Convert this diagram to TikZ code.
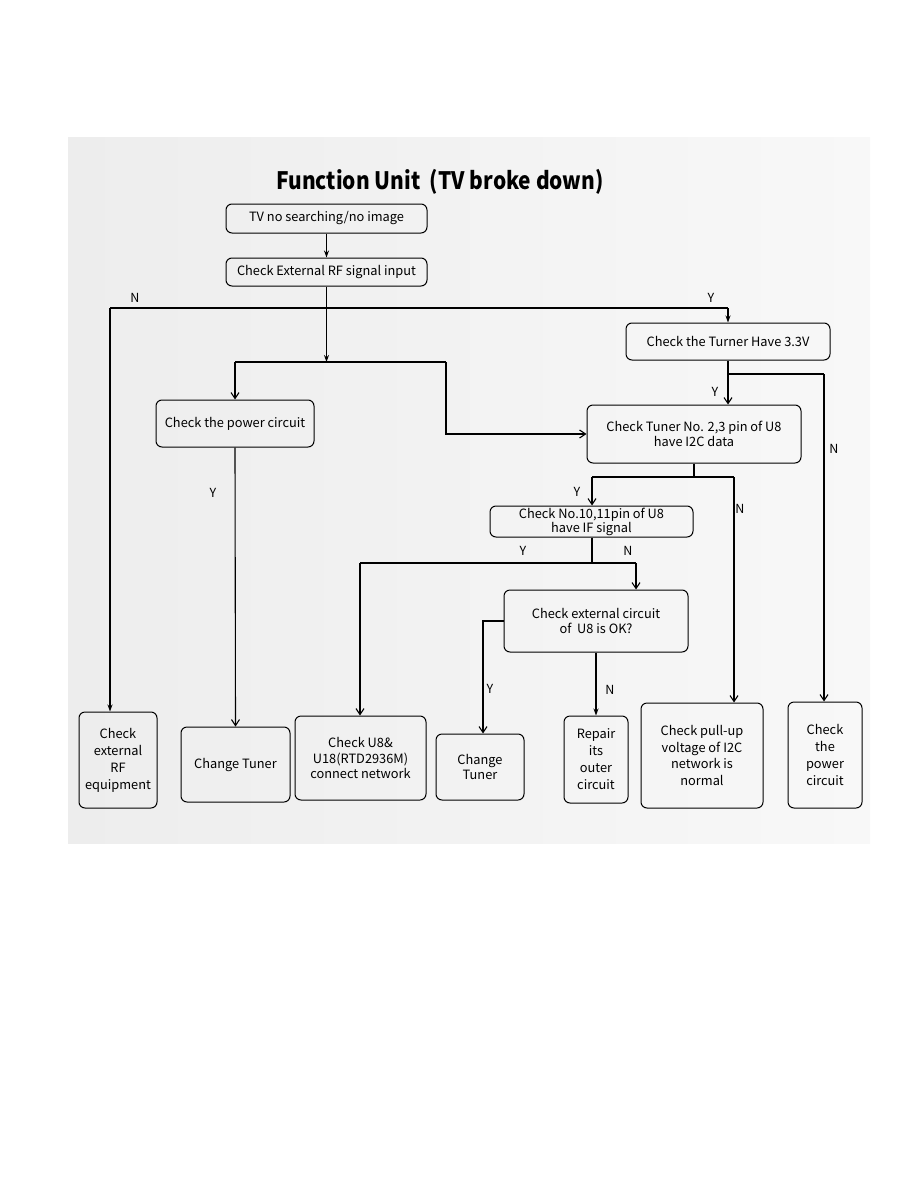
\documentclass[tikz,border=0pt]{standalone}
\usepackage{fontspec}
\setmainfont{Noto Sans CJK SC}
\usetikzlibrary{arrows.meta}
\definecolor{bgA}{HTML}{EDEDED}
\definecolor{bgB}{HTML}{F8F8F8}
\begin{document}
\begin{tikzpicture}[x=1pt,y=-1pt,
  box/.style={draw, rounded corners=6pt, line width=1pt, inner sep=1pt, align=center,
    font=\fontsize{12.8}{15.5}\selectfont},
  lab/.style={font=\fontsize{12.5}{14}\selectfont},
  ln/.style={line width=1.1pt},
  arrF/.style={ln, -{Stealth[length=7pt,width=5pt]}},
  arrO/.style={ln, -{Straight Barb[length=6pt,width=8pt]}}]
\useasboundingbox (0,0) rectangle (918,1188);
\shade[left color=bgA, right color=bgB] (68,138) rectangle (870,843);

\node[font=\fontsize{24}{28}\selectfont\bfseries] (title) at (440,182) {\scalebox{0.87}[1]{Function Unit\ \ (TV broke down)}};

\node[box, minimum width=201pt, minimum height=29pt] (b1) at (326.5,218.5) {TV no searching/no image};
\node[box, minimum width=201pt, minimum height=28pt] (b2) at (326.5,272) {Check External RF signal input};
\node[box, minimum width=204pt, minimum height=37pt] (v33) at (728,341.5) {Check the Turner Have 3.3V};
\node[box, minimum width=158pt, minimum height=47pt] (pwr) at (235,423.5) {Check the power circuit};
\node[box, minimum width=214pt, minimum height=58pt] (i2c) at (694,434) {Check Tuner No. 2,3 pin of U8\\have I2C data};
\node[box, minimum width=203pt, minimum height=31pt, font=\fontsize{12.8}{13}\selectfont] (ifs) at (591.5,521.5) {Check No.10,11pin of U8\\have IF signal};
\node[box, minimum width=184pt, minimum height=62pt] (ext) at (596,621) {Check external circuit\\of\ \ U8 is OK?};

\node[box, minimum width=78pt, minimum height=96pt, font=\fontsize{12.8}{17}\selectfont] (rf) at (118,760) {Check\\external\\RF\\equipment};
\node[box, minimum width=109pt, minimum height=75pt] (ct1) at (235.5,764.5) {Change Tuner};
\node[box, minimum width=131pt, minimum height=84pt] (u8) at (360.5,758) {Check U8\&\\U18(RTD2936M)\\connect network};
\node[box, minimum width=88pt, minimum height=66pt] (ct2) at (480,767) {Change\\Tuner};
\node[box, minimum width=64pt, minimum height=87pt, font=\fontsize{12.8}{17}\selectfont] (rep) at (596,759.5) {Repair\\its\\outer\\circuit};
\node[box, minimum width=122pt, minimum height=105pt, font=\fontsize{12.8}{16.5}\selectfont] (pull) at (702,755.5) {Check pull-up\\voltage of I2C\\network is\\normal};
\node[box, minimum width=74pt, minimum height=106pt, font=\fontsize{12.8}{17}\selectfont] (pc) at (825,755) {Check\\the\\power\\circuit};

% junction coordinates
\coordinate (j1) at (326.5,308);
\coordinate (jN) at (110,308);
\coordinate (jY) at (728,308);
\coordinate (j2) at (326.5,362);
\coordinate (j2L) at (235,362);
\coordinate (j2R) at (446,362);
\coordinate (j2B) at (446,434);
\coordinate (j3) at (728,374);
\coordinate (j3R) at (824,374);
\coordinate (j4) at (694,477);
\coordinate (j4L) at (592,477);
\coordinate (j4R) at (734,477);
\coordinate (j5) at (592,563);
\coordinate (j5L) at (360,563);
\coordinate (j5R) at (636,563);
\coordinate (j6) at (483,621);

\draw[arrF] (b1) -- (b2);
\draw[ln] (b2.south) -- (j1);
\draw[ln] (jN) -- (jY);
\draw[arrF] (jN) -- (jN |- rf.north);
\draw[arrF] (jY) -- (v33.north);
\draw[arrF] (j1) -- (j2);
\draw[ln] (j2L) -- (j2R);
\draw[arrO] (j2L) -- (pwr.north);
\draw[arrO] (j2R) -- (j2B) -- (i2c.west);
\draw[ln] (v33.south) -- (j3) -- (j3R);
\draw[arrO] (j3R) -- (j3R |- pc.north);
\draw[arrO] (j3) -- (j3 |- i2c.north);
\draw[ln] (i2c.south) -- (j4);
\draw[ln] (j4L) -- (j4R);
\draw[arrO] (j4L) -- (j4L |- ifs.north);
\draw[arrO] (j4R) -- (j4R |- pull.north);
\draw[ln] (ifs.south -| j5) -- (j5);
\draw[ln] (j5L) -- (j5R);
\draw[arrO] (j5R) -- (j5R |- ext.north);
\draw[arrO] (j5L) -- (j5L |- u8.north);
\draw[arrO] (ext.west) -- (j6) -- (j6 |- ct2.north);
\draw[arrF] (ext.south) -- (rep.north);
\draw[arrO] (pwr.south) -- (ct1.north);

\node[lab] (lN1) at (135,298) {N};
\node[lab] (lY1) at (711,298) {Y};
\node[lab] (lY2) at (715,392) {Y};
\node[lab] (lN2) at (834,449) {N};
\node[lab] (lY3) at (213,493) {Y};
\node[lab] (lY4) at (577,492) {Y};
\node[lab] (lN3) at (740,509) {N};
\node[lab] (lY5) at (523,551) {Y};
\node[lab] (lN4) at (628,551) {N};
\node[lab] (lY6) at (490,689) {Y};
\node[lab] (lN5) at (610,690) {N};
\end{tikzpicture}
\end{document}
